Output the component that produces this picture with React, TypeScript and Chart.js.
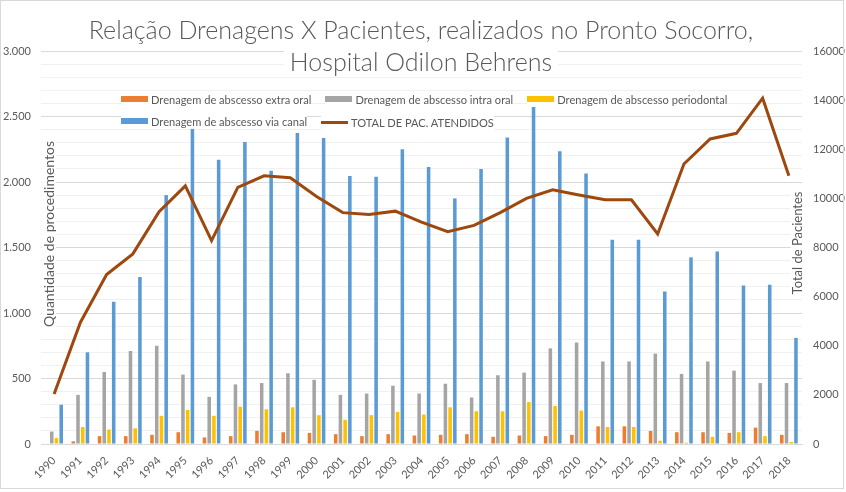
import React, { useEffect, useRef } from "react";
import { Chart, registerables } from "chart.js";

Chart.register(...registerables);

const years = [
  "1990", "1991", "1992", "1993", "1994", "1995", "1996", "1997", "1998", "1999",
  "2000", "2001", "2002", "2003", "2004", "2005", "2006", "2007", "2008", "2009",
  "2010", "2011", "2012", "2013", "2014", "2015", "2016", "2017", "2018",
];
const extraOral = [0, 20, 60, 60, 70, 90, 50, 60, 100, 90, 85, 75, 60, 75, 65, 70, 75, 55, 65, 60, 70, 135, 135, 100, 90, 90, 85, 125, 70];
const intraOral = [95, 375, 550, 710, 750, 530, 360, 455, 465, 540, 490, 375, 385, 445, 385, 460, 355, 525, 545, 730, 775, 630, 630, 690, 535, 630, 560, 465, 465];
const periodontal = [45, 130, 110, 120, 215, 260, 215, 285, 265, 280, 220, 185, 220, 245, 225, 280, 250, 250, 320, 290, 255, 130, 130, 25, 10, 55, 90, 60, 15];
const viaCanal = [300, 700, 1085, 1275, 1900, 2425, 2170, 2305, 2085, 2375, 2335, 2045, 2040, 2250, 2115, 1875, 2100, 2340, 2585, 2235, 2065, 1560, 1560, 1165, 1425, 1470, 1210, 1215, 810];
const totalPacientes = [2040, 4950, 6900, 7740, 9460, 10510, 8280, 10450, 10920, 10840, 10080, 9420, 9340, 9480, 9030, 8640, 8900, 9420, 10000, 10350, 10140, 9940, 9940, 8550, 11400, 12420, 12650, 14080, 10920];

const seriesNames = [
  "Drenagem de abscesso extra oral",
  "Drenagem de abscesso intra oral",
  "Drenagem de abscesso periodontal",
  "Drenagem de abscesso via canal",
  "TOTAL DE PAC. ATENDIDOS",
];
const seriesColors = ["#ED7D31", "#A5A5A5", "#FFC000", "#5B9BD5", "#9E480E"];

const titleLines = ["Relação Drenagens X Pacientes, realizados no Pronto Socorro,", "Hospital Odilon Behrens"];
const leftAxisTitle = "Quantidade de procedimentos";
const rightAxisTitle = "Total de Pacientes";

const FONT = 'Lato, "Open Sans", sans-serif';
const TEXT = "#595959";

function fmtThousands(v: number): string {
  return String(Math.round(v)).replace(/\B(?=(\d{3})+(?!\d))/g, ".");
}

export default function App() {
  const canvasRef = useRef<HTMLCanvasElement | null>(null);

  useEffect(() => {
    document.body.style.margin = "0";
    const canvas = canvasRef.current;
    if (!canvas) return;
    const barDs = (i: number, data: number[]) => ({
      type: "bar" as const,
      label: seriesNames[i],
      data,
      backgroundColor: seriesColors[i],
      borderWidth: 0,
      yAxisID: "y",
      categoryPercentage: 0.72,
      barPercentage: 0.75,
      order: 1,
    });
    const chart = new Chart(canvas, {
      type: "bar",
      data: {
        labels: years,
        datasets: [
          barDs(0, extraOral),
          barDs(1, intraOral),
          barDs(2, periodontal),
          barDs(3, viaCanal),
          {
            type: "line" as const,
            label: seriesNames[4],
            data: totalPacientes,
            borderColor: seriesColors[4],
            backgroundColor: seriesColors[4],
            borderWidth: 3,
            pointRadius: 0,
            tension: 0,
            yAxisID: "y1",
            order: 0,
          } as any,
        ],
      },
      options: {
        responsive: false,
        animation: false,
        layout: { padding: { top: 51, left: 0, right: 0, bottom: 0 } },
        plugins: {
          legend: { display: false },
          title: { display: false },
          tooltip: { enabled: false },
        },
        scales: {
          x: {
            grid: { display: false },
            border: { display: true, color: "#d9d9d9" },
            ticks: {
              autoSkip: false,
              minRotation: 45,
              maxRotation: 45,
              color: TEXT,
              font: { family: FONT, size: 11 },
              padding: 2,
            },
            afterFit: (s: any) => {
              s.height = 48;
            },
          },
          y: {
            position: "left",
            min: 0,
            max: 3000,
            ticks: {
              stepSize: 100,
              maxTicksLimit: 100,
              autoSkip: false,
              color: TEXT,
              font: { family: FONT, size: 11 },
              padding: 10,
              callback: (v: any) => (Number(v) % 500 === 0 ? fmtThousands(Number(v)) : ""),
            },
            grid: {
              drawTicks: false,
              color: (ctx: any) => (ctx.tick && ctx.tick.value % 500 === 0 ? "#d9d9d9" : "#f0f0f0"),
            },
            border: { display: false },
            afterFit: (s: any) => {
              s.width = 41;
            },
          },
          y1: {
            position: "right",
            min: 0,
            max: 16000,
            ticks: {
              stepSize: 2000,
              autoSkip: false,
              color: TEXT,
              font: { family: FONT, size: 11 },
              padding: 11,
              callback: (v: any) => String(v),
            },
            grid: { display: false, drawTicks: false },
            border: { display: false },
            afterFit: (s: any) => {
              s.width = 44;
            },
          },
        },
      } as any,
    });
    return () => chart.destroy();
  }, []);

  const legendItem = (i: number) => (
    <span
      key={i}
      style={{
        display: "inline-flex",
        alignItems: "center",
        background: "#fff",
        height: 15,
        marginRight: 14,
        whiteSpace: "nowrap",
      }}
    >
      <span
        style={{
          display: "inline-block",
          width: 27,
          height: i === 4 ? 3 : 6,
          background: seriesColors[i],
          marginRight: 3,
        }}
      />
      {seriesNames[i]}
    </span>
  );

  return (
    <div style={{ position: "relative", width: 846, height: 492, overflow: "hidden", background: "#fff" }}>
      <canvas ref={canvasRef} width={846} height={492} style={{ position: "absolute", left: 0, top: 0, width: 846, height: 492 }} />
      <div
        style={{
          position: "absolute",
          left: 0,
          top: 0,
          width: 844,
          height: 489,
          border: "1px solid #d9d9d9",
          pointerEvents: "none",
          boxSizing: "border-box",
        }}
      />
      <div
        style={{
          position: "absolute",
          left: 0,
          width: 846,
          top: 13,
          textAlign: "center",
          fontFamily: FONT,
          fontWeight: 300,
          fontSize: 25,
          color: TEXT,
          lineHeight: "32px",
        }}
      >
        <div style={{ marginLeft: -4 }}>
          <span style={{ background: "#fff" }}>{titleLines[0]}</span>
        </div>
        <div style={{ marginLeft: -4 }}>
          <span style={{ background: "#fff", padding: "0 6px" }}>{titleLines[1]}</span>
        </div>
      </div>
      <div
        style={{
          position: "absolute",
          left: 121,
          top: 90,
          fontFamily: FONT,
          fontSize: 11.1,
          color: TEXT,
          lineHeight: "15px",
        }}
      >
        <div style={{ height: 15, marginBottom: 7 }}>
          {legendItem(0)}
          {legendItem(1)}
          {legendItem(2)}
        </div>
        <div style={{ height: 15 }}>
          {legendItem(3)}
          {legendItem(4)}
        </div>
      </div>
      <div
        style={{
          position: "absolute",
          left: 49,
          top: 234,
          transform: "translate(-50%, -50%) rotate(-90deg)",
          fontFamily: FONT,
          fontSize: 14,
          color: TEXT,
          whiteSpace: "nowrap",
          background: "#fff",
          lineHeight: "14px",
        }}
      >
        {leftAxisTitle}
      </div>
      <div
        style={{
          position: "absolute",
          left: 797,
          top: 243,
          transform: "translate(-50%, -50%) rotate(-90deg)",
          fontFamily: FONT,
          fontSize: 13,
          color: TEXT,
          whiteSpace: "nowrap",
          background: "#fff",
          lineHeight: "13px",
        }}
      >
        {rightAxisTitle}
      </div>
    </div>
  );
}
